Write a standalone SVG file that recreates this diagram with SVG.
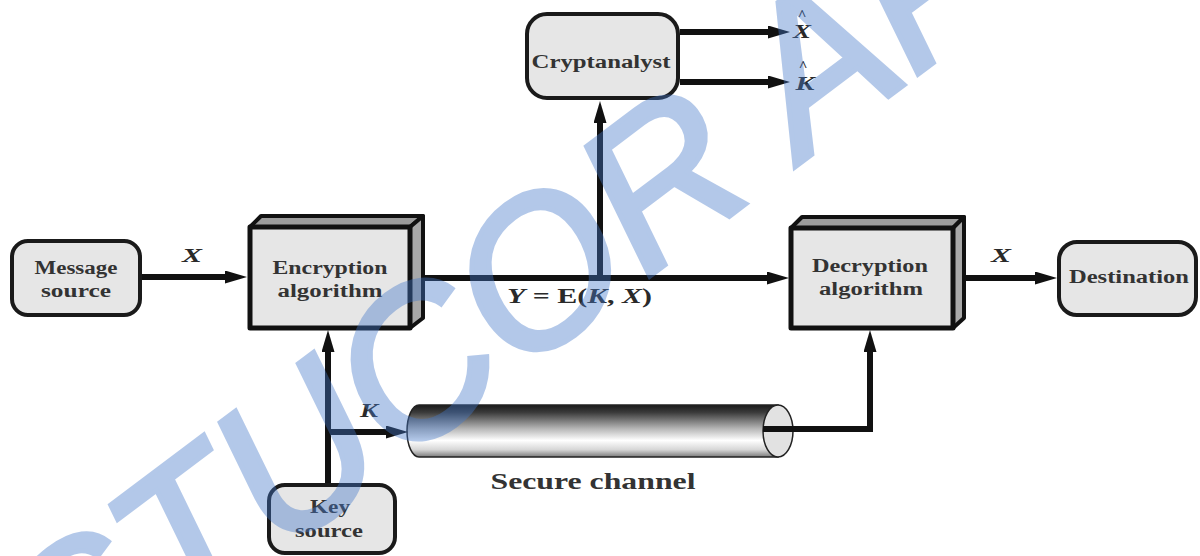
<svg xmlns="http://www.w3.org/2000/svg" width="1200" height="556" viewBox="0 0 1200 556">
<style>
.lbl{font-family:"Liberation Serif","Times New Roman",serif;font-weight:bold;font-size:18.5px;fill:#333;text-anchor:middle}
.var{font-family:"Liberation Serif","Times New Roman",serif;font-weight:bold;font-style:italic;font-size:19px;fill:#2a2a2a;text-anchor:middle}
.hat{font-family:"Liberation Serif","Times New Roman",serif;font-weight:bold;font-size:15px;fill:#2a2a2a;text-anchor:middle}
.rbox{fill:#e6e6e6;stroke:#1a1a1a;stroke-width:4}
.front{fill:#e6e6e6;stroke:#111;stroke-width:5;stroke-linejoin:round}
.top{fill:#9c9c9c;stroke:#111;stroke-width:4;stroke-linejoin:round}
.side{fill:#a8a8a8;stroke:#111;stroke-width:4;stroke-linejoin:round}
.conn{fill:none;stroke:#111;stroke-width:6;stroke-linejoin:miter}
.wm{font-family:"Liberation Sans",Arial,sans-serif;font-style:italic;font-size:206px;fill:#4378ca;stroke:#4378ca;stroke-width:5;opacity:0.4}
</style>
<defs>
<marker id="ah" markerUnits="userSpaceOnUse" markerWidth="22" markerHeight="13" refX="10" refY="6.5" orient="auto">
<path d="M0,0 L22,6.5 L0,13 Z" fill="#111"/>
</marker>
<linearGradient id="cyl" x1="0" y1="0" x2="0" y2="1">
<stop offset="0" stop-color="#1a1a1a"/>
<stop offset="0.14" stop-color="#3a3a3a"/>
<stop offset="0.45" stop-color="#b4b4b4"/>
<stop offset="0.68" stop-color="#ffffff"/>
<stop offset="0.86" stop-color="#d6d6d6"/>
<stop offset="1" stop-color="#7a7a7a"/>
</linearGradient>
</defs>
<rect width="1200" height="556" fill="#ffffff"/>

<g id="message-source">
<rect class="rbox" x="12" y="241" width="128" height="74" rx="16"/>
<text class="lbl" x="76" y="274" textLength="83" lengthAdjust="spacingAndGlyphs">Message</text>
<text class="lbl" x="76" y="297" textLength="70" lengthAdjust="spacingAndGlyphs">source</text>
</g>

<g id="encryption-algorithm">
<polygon class="top" points="250,227 261,216 423,216 410,227"/>
<polygon class="side" points="410,227 423,216 423,318 410,328"/>
<rect class="front" x="250" y="227" width="160" height="101"/>
<text class="lbl" x="330" y="274" textLength="115" lengthAdjust="spacingAndGlyphs">Encryption</text>
<text class="lbl" x="330" y="297" textLength="105" lengthAdjust="spacingAndGlyphs">algorithm</text>
</g>

<g id="cryptanalyst">
<rect class="rbox" x="527" y="14" width="151" height="84" rx="20"/>
<text class="lbl" x="601" y="68" textLength="139" lengthAdjust="spacingAndGlyphs">Cryptanalyst</text>
</g>

<g id="decryption-algorithm">
<polygon class="top" points="791,228 802,217 964,217 953,228"/>
<polygon class="side" points="953,228 964,217 964,318 953,328"/>
<rect class="front" x="791" y="228" width="162" height="100"/>
<text class="lbl" x="870" y="272" textLength="116" lengthAdjust="spacingAndGlyphs">Decryption</text>
<text class="lbl" x="871" y="295" textLength="104" lengthAdjust="spacingAndGlyphs">algorithm</text>
</g>

<g id="destination">
<rect class="rbox" x="1059" y="242" width="137" height="73" rx="18"/>
<text class="lbl" x="1129" y="283" textLength="120" lengthAdjust="spacingAndGlyphs">Destination</text>
</g>

<g id="key-source">
<rect class="rbox" x="269" y="485" width="126" height="68" rx="16"/>
<text class="lbl" x="330" y="513" textLength="40" lengthAdjust="spacingAndGlyphs">Key</text>
<text class="lbl" x="329" y="537" textLength="68" lengthAdjust="spacingAndGlyphs">source</text>
</g>

<g id="secure-channel">
<path d="M419,405 H778 V457 H419 A12,26 0 0 1 419,405 Z" fill="url(#cyl)" stroke="#222" stroke-width="1.5"/>
<ellipse cx="778" cy="431" rx="15" ry="26" fill="#e2e2e2" stroke="#222" stroke-width="1.5"/>
<text class="lbl" x="593" y="489" style="font-size:24px" textLength="205" lengthAdjust="spacingAndGlyphs">Secure channel</text>
</g>

<g id="connectors">
<path class="conn" d="M142,277 H235" marker-end="url(#ah)"/>
<path class="conn" d="M423,278 H777" marker-end="url(#ah)"/>
<path class="conn" d="M600,281 V113" marker-end="url(#ah)"/>
<path class="conn" d="M680,32 H778" marker-end="url(#ah)"/>
<path class="conn" d="M680,82 H778" marker-end="url(#ah)"/>
<path class="conn" d="M964,278 H1045" marker-end="url(#ah)"/>
<path class="conn" d="M328,483 V342" marker-end="url(#ah)"/>
<path class="conn" d="M328,432 H396" marker-end="url(#ah)"/>
<path class="conn" d="M763,429 H870 V342" marker-end="url(#ah)"/>
</g>

<g id="labels">
<text class="hat" x="802" y="20">^</text>
<text class="var" x="802" y="38" textLength="18" lengthAdjust="spacingAndGlyphs">X</text>
<text class="hat" x="803" y="71">^</text>
<text class="var" x="805" y="90" textLength="19" lengthAdjust="spacingAndGlyphs">K</text>
<text class="var" x="192" y="262" textLength="20" lengthAdjust="spacingAndGlyphs">X</text>
<text class="var" x="1001" y="262" textLength="20" lengthAdjust="spacingAndGlyphs">X</text>
<text class="var" x="369" y="417" textLength="18" lengthAdjust="spacingAndGlyphs">K</text>
<text x="507" y="303" textLength="145" lengthAdjust="spacingAndGlyphs" style="font-family:'Liberation Serif','Times New Roman',serif;font-weight:bold;font-size:21px;fill:#2a2a2a"><tspan font-style="italic">Y</tspan> = E(<tspan font-style="italic">K</tspan>, <tspan font-style="italic">X</tspan>)</text>
</g>

<text class="wm" transform="translate(69,714) rotate(-37)" x="0" y="0">STUCOR APP</text>
</svg>
